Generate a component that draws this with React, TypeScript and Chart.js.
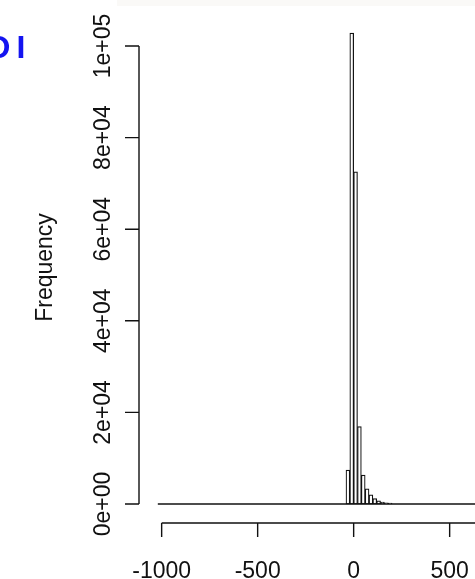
import React, { useEffect, useRef } from "react";
import { Chart, registerables } from "chart.js";

Chart.register(...registerables);

// Histogram data (bin width 20)
const binWidth = 20;
const breakStart = -1020;
const breakEnd = 1480;
const binStarts = [-40, -20, 0, 20, 40, 60, 80, 100, 120, 140, 160, 180];
const counts = [7400, 102800, 72500, 16900, 6300, 3300, 2000, 1200, 700, 400, 250, 180];

const xTicks = [-1000, -500, 0, 500, 1000, 1500];
const xTickLabels = ["-1000", "-500", "0", "500", "1000", "1500"];
const yTicks = [0, 20000, 40000, 60000, 80000, 100000];
const yTickLabels = ["0e+00", "2e+04", "4e+04", "6e+04", "8e+04", "1e+05"];
const yTitle = "Frequency";
const cornerText = "OI";

const FONT = "'Liberation Sans', Arial, sans-serif";

const rAxes = {
  id: "rAxes",
  beforeDraw(chart: any) {
    const ctx = chart.ctx;
    ctx.save();
    ctx.fillStyle = "#faf9f7";
    ctx.fillRect(117, 0, 358, 6);
    ctx.restore();
  },
  afterDraw(chart: any) {
    const ctx = chart.ctx;
    const xs = chart.scales.x;
    const ys = chart.scales.y;
    const area = chart.chartArea;
    ctx.save();
    ctx.strokeStyle = "#111";
    ctx.fillStyle = "#111";
    ctx.lineWidth = 1.4;

    // y axis
    const ax = area.left;
    ctx.beginPath();
    ctx.moveTo(ax, ys.getPixelForValue(yTicks[0]));
    ctx.lineTo(ax, ys.getPixelForValue(yTicks[yTicks.length - 1]));
    yTicks.forEach((v) => {
      const p = ys.getPixelForValue(v);
      ctx.moveTo(ax, p);
      ctx.lineTo(ax - 14, p);
    });
    ctx.stroke();

    ctx.font = "23px " + FONT;
    ctx.textAlign = "center";
    ctx.textBaseline = "alphabetic";
    yTicks.forEach((v, i) => {
      const p = ys.getPixelForValue(v);
      ctx.save();
      ctx.translate(ax - 29, p);
      ctx.rotate(-Math.PI / 2);
      ctx.fillText(yTickLabels[i], 0, 0);
      ctx.restore();
    });

    ctx.save();
    ctx.translate(ax - 87, (area.top + area.bottom) / 2 + 1);
    ctx.rotate(-Math.PI / 2);
    ctx.fillText(yTitle, 0, 0);
    ctx.restore();

    // x axis
    const ay = area.bottom;
    ctx.beginPath();
    ctx.moveTo(xs.getPixelForValue(xTicks[0]), ay);
    ctx.lineTo(xs.getPixelForValue(xTicks[xTicks.length - 1]), ay);
    xTicks.forEach((v) => {
      const p = xs.getPixelForValue(v);
      ctx.moveTo(p, ay);
      ctx.lineTo(p, ay + 14);
    });
    ctx.stroke();
    xTicks.forEach((v, i) => {
      const p = xs.getPixelForValue(v);
      ctx.fillText(xTickLabels[i], p, ay + 55);
    });

    // partial blue text at top-left
    ctx.fillStyle = "#1414f0";
    ctx.font = "bold 32px " + FONT;
    ctx.textAlign = "left";
    (ctx as any).letterSpacing = "6px";
    ctx.fillText(cornerText, -14.5, 58);
    ctx.restore();
  },
};

export default function App() {
  const ref = useRef<HTMLCanvasElement | null>(null);
  useEffect(() => {
    if (!ref.current) return;
    const chart = new Chart(ref.current, {
      type: "bar",
      data: {
        datasets: [
          {
            type: "line",
            data: [
              { x: breakStart, y: 0 },
              { x: breakEnd, y: 0 },
            ],
            borderColor: "#111",
            borderWidth: 1.4,
            pointRadius: 0,
          } as any,
          {
            type: "bar",
            data: binStarts.map((s, i) => ({ x: s + binWidth / 2, y: counts[i] })),
            backgroundColor: "#ffffff",
            borderColor: "#111",
            borderWidth: 1.2,
            borderSkipped: false,
            barPercentage: 1,
            categoryPercentage: 1,
          } as any,
        ],
      },
      options: {
        animation: false,
        responsive: false,
        devicePixelRatio: 1,
        layout: { padding: { left: 139, right: 0, top: 10, bottom: 56 } },
        plugins: { legend: { display: false }, tooltip: { enabled: false } },
        scales: {
          x: { type: "linear", min: -1118, max: 632, display: false, offset: false, grid: { display: false } },
          y: { min: -4148, max: 107860, display: false, grid: { display: false } },
        },
      } as any,
      plugins: [rAxes],
    });
    return () => chart.destroy();
  }, []);
  return (
    <div style={{ position: "absolute", left: 0, top: 0, width: 475, height: 579, background: "#fff" }}>
      <canvas ref={ref} width={475} height={579} />
    </div>
  );
}
